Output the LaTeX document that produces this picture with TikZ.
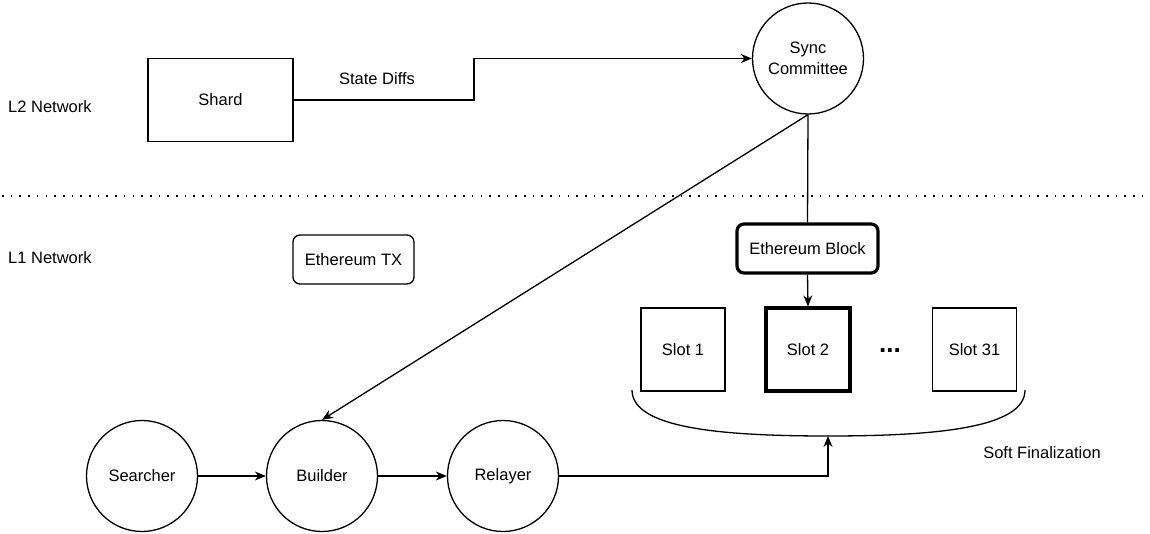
\documentclass[tikz,border=0pt]{standalone}
\usepackage{fontspec}
\setmainfont{Liberation Sans}
\usetikzlibrary{arrows.meta}

\tikzset{
  box/.style={draw,line width=1.3pt,minimum width=#1,minimum height=83pt,inner sep=0pt},
  box/.default=84pt,
  roundbox/.style={draw,rounded corners=7pt,minimum height=49pt,inner sep=0pt},
  agent/.style={draw,circle,line width=1.3pt,minimum size=111pt,inner sep=0pt,align=center},
  flow/.style={line width=1.3pt,-{Stealth[length=11pt,width=9pt]}},
  plain/.style={line width=1.3pt},
  label/.style={inner sep=0pt}
}

\begin{document}
\begin{tikzpicture}[x=1pt,y=-1pt,font=\fontsize{16.5}{21.5}\selectfont]
	\useasboundingbox (0,0) rectangle (1150,534);
	\node[label,anchor=west] (l2) at (8,107) {L2 Network};
	\node[label,anchor=west] (l1) at (8,258) {L1 Network};
	\draw[line width=1.6pt,dash pattern=on 1.6pt off 7.1pt] (2,196) -- (1150,196);

	\node[box=145pt] (shard) at (220.5,100) {Shard};
	\node[agent] (sync) at (808,58.5) {Sync\\Committee};
	\node[roundbox,line width=1.3pt,minimum width=121pt] (ethtx) at (353.5,259.5) {Ethereum TX};
	\node[roundbox,line width=3.2pt,minimum width=141pt] (ethblock) at (807.5,248.5) {Ethereum Block};

	\node[box] (slot1) at (683,349.5) {Slot 1};
	\node[box,line width=3.2pt] (slot2) at (808,349.5) {Slot 2};
	\node[label,font=\fontsize{26}{28}\selectfont\bfseries] (dots) at (890,351) {...};
	\node[box] (slot31) at (974.5,349.5) {Slot 31};

	\node[agent] (searcher) at (142,476) {Searcher};
	\node[agent] (builder) at (322,476) {Builder};
	\node[agent] (relayer) at (503,476) {Relayer};

	\coordinate (braceL) at (632,390);
	\coordinate (braceB) at (828,436);
	\coordinate (braceR) at (1025,390);
	\draw[plain] (braceL) .. controls (632,428) and (720,436) .. (braceB)
		.. controls (936,436) and (1025,428) .. (braceR);
	\node[label] (soft) at (1042,453) {Soft Finalization};

	\draw[flow] (shard.east) -- (474,100) -- (474,58.5) -- (sync.west);
	\node[label] (diffs) at (377,79) {State Diffs};
	\draw[flow] (sync.south) -- (builder.north);
	\draw[plain] (sync.south) -- (ethblock.north);
	\draw[flow] (ethblock.south) -- (slot2.north);
	\draw[flow] (searcher) -- (builder);
	\draw[flow] (builder) -- (relayer);
	\draw[flow] (relayer.east) -| (braceB);
\end{tikzpicture}
\end{document}
